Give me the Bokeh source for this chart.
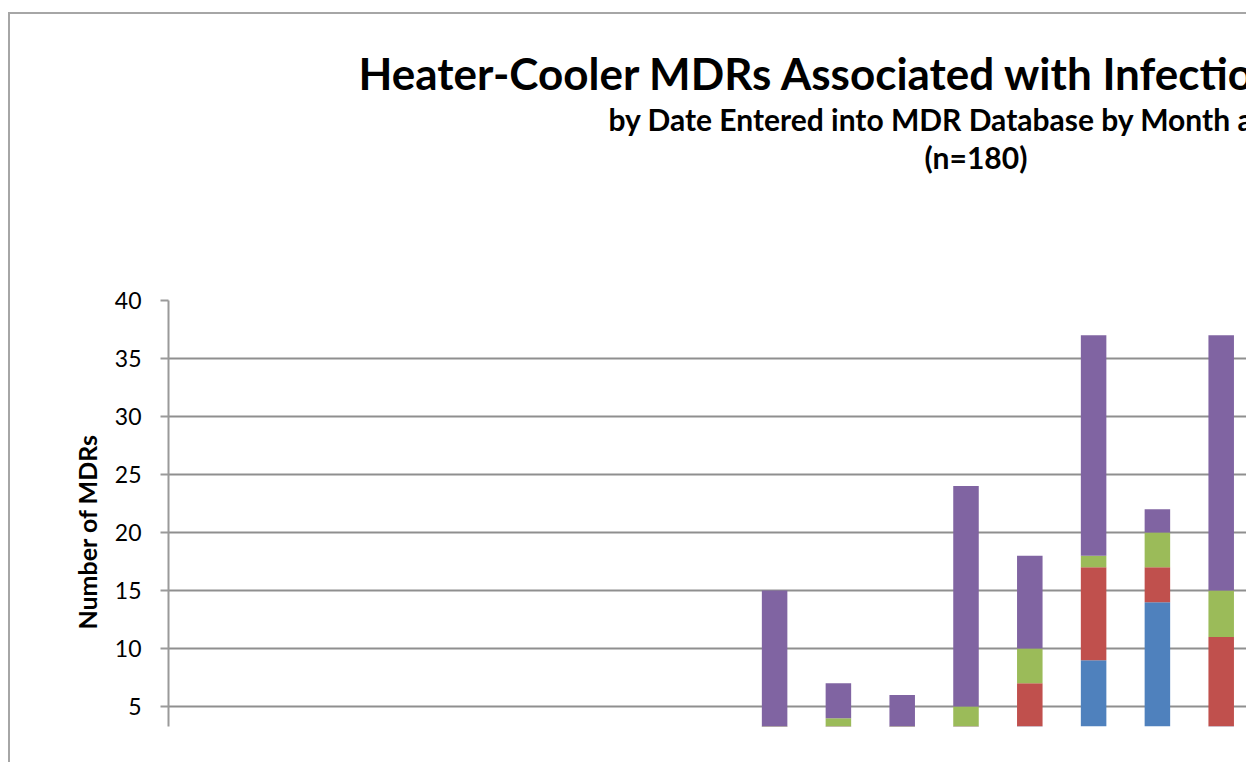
from bokeh.plotting import figure
from bokeh.models import Range1d, FixedTicker, Title, ColumnDataSource
from bokeh.embed import file_html
from bokeh.resources import INLINE

# Month categories (x-axis labels lie below the visible crop)
months = ["Jan-15", "Feb-15", "Mar-15", "Apr-15", "May-15", "Jun-15",
          "Jul-15", "Aug-15", "Sep-15", "Oct-15", "Nov-15", "Dec-15",
          "Jan-16", "Feb-16", "Mar-16", "Apr-16", "May-16"]

series_a = [0, 0, 0, 0, 0, 0, 0, 0, 0, 0, 0, 0, 0, 0, 9, 14, 0]    # blue
series_b = [0, 0, 0, 0, 0, 0, 0, 0, 0, 0, 0, 0, 0, 7, 8, 3, 11]    # red
series_c = [0, 0, 0, 0, 0, 0, 0, 0, 0, 0, 4, 0, 5, 3, 1, 3, 4]     # green
series_d = [0, 0, 0, 0, 0, 0, 0, 0, 0, 15, 3, 6, 19, 8, 19, 2, 22]  # purple

series_names = ["Series A", "Series B", "Series C", "Series D"]
colors = ["#4F81BD", "#C0504D", "#9BBB59", "#8064A2"]

yticks = [5, 10, 15, 20, 25, 30, 35, 40]

title_text = "Heater-Cooler MDRs Associated with Infections"
subtitle_text = "by Date Entered into MDR Database by Month and Year"
n_text = "(n=180)"
y_label = "Number of MDRs"

# keep only months that have reports (empty months draw nothing)
rows = [i for i in range(len(months))
        if series_a[i] + series_b[i] + series_c[i] + series_d[i] > 0]
src = ColumnDataSource(dict(
    x=[i + 0.5 for i in rows],
    month=[months[i] for i in rows],
    **{"Series A": [series_a[i] for i in rows],
       "Series B": [series_b[i] for i in rows],
       "Series C": [series_c[i] for i in rows],
       "Series D": [series_d[i] for i in rows]}
))

FONT = "Lato"

W, H = 1238, 750
p = figure(width=W, height=H, output_backend="svg", toolbar_location=None,
           x_range=Range1d(0, (10 + W - 168) / 63.8), y_range=Range1d(3.28, 40),
           min_border_left=158, min_border_top=286, min_border_right=0,
           min_border_bottom=38)
p.margin = (12, 0, 0, 8)
p.styles = {"border-left": "2px solid #a6a6a6", "border-top": "2px solid #a6a6a6"}
p.outline_line_color = None
p.background_fill_color = "white"
p.border_fill_color = "white"

p.vbar_stack(series_names, x="x", width=0.4, fill_color=colors,
             line_color=None, source=src)

p.xaxis.visible = False
p.xgrid.visible = False

ticker = FixedTicker(ticks=yticks)
p.yaxis.ticker = ticker
p.ygrid.ticker = ticker
p.ygrid.grid_line_color = "#8f8f8f"
p.ygrid.grid_line_width = 2
p.yaxis.axis_line_color = "#9a9a9a"
p.yaxis.axis_line_width = 2
p.yaxis.major_tick_line_color = "#9a9a9a"
p.yaxis.major_tick_line_width = 2
p.yaxis.major_tick_out = 8
p.yaxis.major_tick_in = 0
p.yaxis.minor_tick_line_color = None
p.yaxis.major_label_text_font = FONT
p.yaxis.major_label_text_font_size = "23px"
p.yaxis.major_label_text_color = "black"
p.yaxis.major_label_standoff = 19
# trailing no-break spaces shift the centred label down, as in the reference
p.yaxis.axis_label = y_label + "\u00a0" * 6
p.yaxis.axis_label_text_font = FONT
p.yaxis.axis_label_text_font_size = "25px"
p.yaxis.axis_label_text_font_style = "bold"
p.yaxis.axis_label_text_color = "black"
p.yaxis.axis_label_standoff = 10

# spacer keeps the title block high above the plot area
p.add_layout(Title(text=" ", text_font=FONT, text_font_size="103px", standoff=0), "above")
for txt, off, size in [(n_text, 756, "30px"),
                       (subtitle_text, 440, "30px"),
                       (title_text, 190, "44px")]:
    p.add_layout(Title(text=txt, align="left", offset=off, standoff=0,
                       text_font=FONT, text_font_size=size, text_font_style="bold",
                       text_color="black"), "above")

open("out.html", "w").write(file_html(p, INLINE))
